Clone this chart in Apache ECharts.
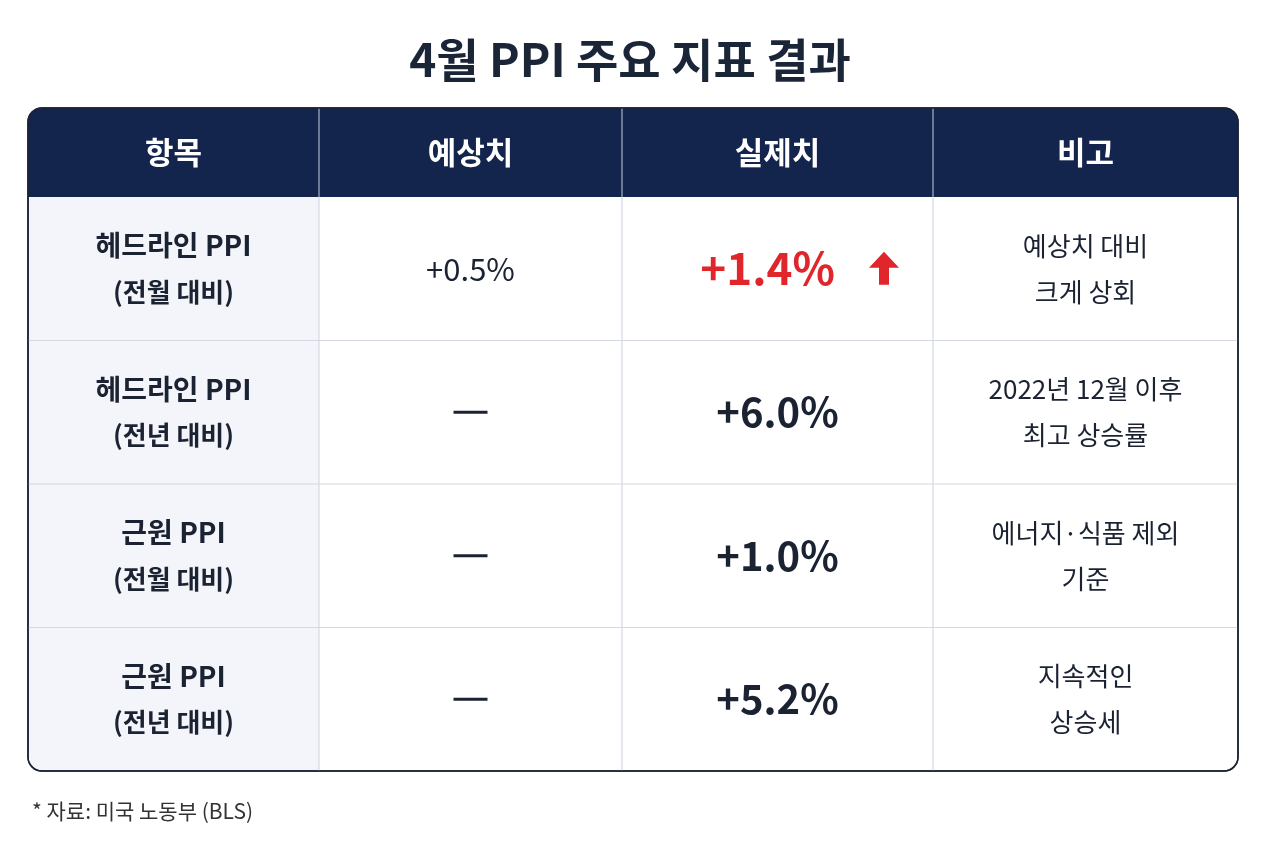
<!DOCTYPE html>
<html><head><meta charset="utf-8">
<script src="https://cdn.jsdelivr.net/npm/echarts@6/dist/echarts.min.js"></script>
<style>html,body{margin:0;padding:0;background:#fff}#main{width:1280px;height:853px}</style>
</head><body><div id="main"></div>
<script>
var title = '4월 PPI 주요 지표 결과';
var headers = ['항목', '예상치', '실제치', '비고'];
var items = [['헤드라인 PPI', '(전월 대비)'], ['헤드라인 PPI', '(전년 대비)'], ['근원 PPI', '(전월 대비)'], ['근원 PPI', '(전년 대비)']];
var expected = ['+0.5%', '—', '—', '—'];
var actual = ['+1.4%', '+6.0%', '+1.0%', '+5.2%'];
var notes = [['예상치 대비', '크게 상회'], ['2022년 12월 이후', '최고 상승률'], ['에너지·식품 제외', '기준'], ['지속적인', '상승세']];
var source = '* 자료: 미국 노동부 (BLS)';

(function () {
var FONT = '"Noto Sans CJK KR", "Noto Sans", sans-serif';
var NAVY = '#13254d';
var tLeft = 28, tRight = 1238, tTop = 108, headH = 89, rowH = 143.5;
var colX = [28, 319, 622, 933, 1238];
var tBottom = tTop + headH + rowH * items.length;

var g = [];
function txt(x, y, s, size, weight, color) {
    g.push({type: 'text', x: x, y: y, style: {text: s, fontSize: size, fontWeight: weight, fill: color,
        fontFamily: FONT, align: 'center', verticalAlign: 'middle'}});
}
g.push({type: 'rect', shape: {x: tLeft, y: tTop, width: tRight - tLeft, height: tBottom - tTop, r: 14},
    style: {fill: '#fff', stroke: '#1b2333', lineWidth: 1.5}});
g.push({type: 'rect', shape: {x: tLeft + 1, y: tTop + headH, width: colX[1] - tLeft - 1, height: tBottom - tTop - headH - 1, r: [0, 0, 0, 13]},
    style: {fill: '#f3f5fa'}});
g.push({type: 'rect', shape: {x: tLeft, y: tTop, width: tRight - tLeft, height: headH, r: [14, 14, 0, 0]}, style: {fill: NAVY}});
for (var i = 1; i < items.length; i++) {
    var yy = tTop + headH + rowH * i;
    g.push({type: 'line', shape: {x1: tLeft, y1: yy, x2: tRight, y2: yy}, style: {stroke: '#d3d8e2', lineWidth: 1.2}});
}
for (var c = 1; c < 4; c++) {
    g.push({type: 'line', shape: {x1: colX[c], y1: tTop, x2: colX[c], y2: tTop + headH}, style: {stroke: '#c8d0e0', lineWidth: 1}});
    g.push({type: 'line', shape: {x1: colX[c], y1: tTop + headH, x2: colX[c], y2: tBottom}, style: {stroke: '#d3d8e2', lineWidth: 1.2}});
}
g.push({type: 'rect', shape: {x: tLeft, y: tTop, width: tRight - tLeft, height: tBottom - tTop, r: 14},
    style: {fill: 'none', stroke: '#1b2333', lineWidth: 1.5}});
headers.forEach(function (h, c) {
    txt((colX[c] + colX[c + 1]) / 2, tTop + headH / 2, h, 31, 'bold', '#fff');
});
items.forEach(function (it, r) {
    var cy = tTop + headH + rowH * r + rowH / 2;
    var cx = function (c) { return (colX[c] + colX[c + 1]) / 2; };
    txt(cx(0), cy - 23, it[0], 28, 'bold', '#1b2333');
    txt(cx(0), cy + 23, it[1], 26, 'bold', '#1b2333');
    if (expected[r] === '—') {
        g.push({type: 'line', shape: {x1: cx(1) - 17, y1: cy, x2: cx(1) + 17, y2: cy}, style: {stroke: '#1b2333', lineWidth: 3}});
    } else {
        txt(cx(1), cy, expected[r], 31, 'normal', '#1b2333');
    }
    if (r === 0) {
        txt(cx(2) - 10, cy, actual[r], 44, 'bold', '#e0262b');
        var ax = 884, ay = cy;
        g.push({type: 'polygon', shape: {points: [[ax, ay - 17], [ax + 15, ay - 1], [ax + 5, ay - 1], [ax + 5, ay + 16], [ax - 5, ay + 16], [ax - 5, ay - 1], [ax - 15, ay - 1]]},
            style: {fill: '#e0262b'}});
    } else {
        txt(cx(2), cy, actual[r], 40, 'bold', '#1b2333');
    }
    txt(cx(3), cy - 23, notes[r][0], 26, 'normal', '#1b2333');
    txt(cx(3), cy + 23, notes[r][1], 26, 'normal', '#1b2333');
});
txt(630, 60, title, 46, 'bold', '#1b2538');
g.push({type: 'text', x: 32, y: 811, style: {text: source, fontSize: 21, fill: '#333', fontFamily: FONT, verticalAlign: 'middle'}});

var chart = echarts.init(document.getElementById('main'));
chart.setOption({animation: false, graphic: g});
})();
</script></body></html>
